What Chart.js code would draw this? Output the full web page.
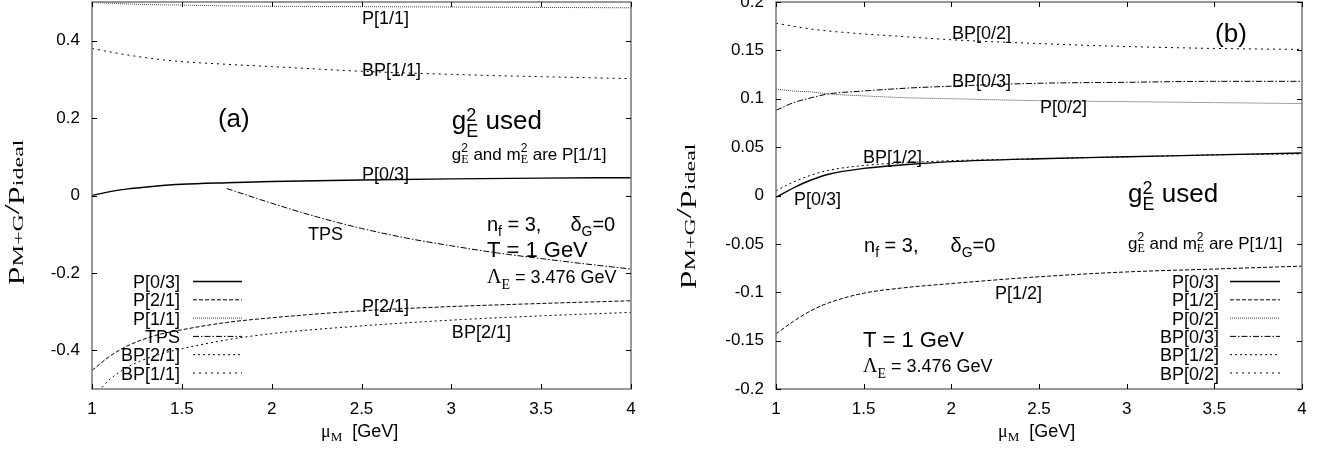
<!DOCTYPE html>
<html>
<head>
<meta charset="utf-8">
<script src="https://cdn.jsdelivr.net/npm/chart.js@4/dist/chart.umd.min.js"></script>
<style>
  body { margin: 0; background: #fff; }
  .panel { position: absolute; top: 0; width: 667px; height: 454px; }
</style>
</head>
<body>
<div class="panel" style="left:0"><canvas id="chartA" width="667" height="454"></canvas></div>
<div class="panel" style="left:667px"><canvas id="chartB" width="667" height="454"></canvas></div>
<script>
/* ── data, panel (a) ── */
const xA     = [1, 1.1, 1.2, 1.35, 1.5, 1.75, 2, 2.5, 3, 3.5, 4];
const p03A   = [0, 0.010, 0.017, 0.024, 0.029, 0.033, 0.036, 0.040, 0.043, 0.045, 0.046];
const p21A   = [-0.452, -0.415, -0.388, -0.362, -0.347, -0.328, -0.316, -0.298, -0.287, -0.279, -0.272];
const p11A   = [0.499, 0.497, 0.495, 0.493, 0.492, 0.490, 0.489, 0.488, 0.487, 0.486, 0.485];
const bp21A  = [-0.525, -0.475, -0.443, -0.414, -0.396, -0.373, -0.357, -0.337, -0.322, -0.311, -0.302];
const bp11A  = [0.380, 0.371, 0.363, 0.353, 0.346, 0.339, 0.333, 0.321, 0.313, 0.307, 0.302];
const xTps   = [1.75, 2, 2.25, 2.5, 2.75, 3, 3.25, 3.5, 3.75, 4];
const tpsA   = [0.018, -0.020, -0.055, -0.085, -0.110, -0.130, -0.148, -0.163, -0.177, -0.190];

/* ── data, panel (b) ── */
const xB     = [1, 1.1, 1.2, 1.3, 1.5, 1.75, 2, 2.5, 3, 3.5, 4];
const p03B   = [-0.002, 0.008, 0.016, 0.022, 0.028, 0.032, 0.035, 0.038, 0.040, 0.042, 0.044];
const p12B   = [-0.143, -0.130, -0.119, -0.111, -0.101, -0.095, -0.091, -0.084, -0.079, -0.076, -0.073];
const p02B   = [0.110, 0.108, 0.107, 0.105, 0.103, 0.101, 0.100, 0.098, 0.097, 0.096, 0.095];
const bp03B  = [0.088, 0.096, 0.101, 0.105, 0.108, 0.111, 0.113, 0.116, 0.117, 0.118, 0.118];
const bp12B  = [0.005, 0.014, 0.021, 0.026, 0.031, 0.034, 0.036, 0.038, 0.040, 0.042, 0.043];
const bp02B  = [0.178, 0.175, 0.172, 0.170, 0.167, 0.164, 0.161, 0.157, 0.154, 0.152, 0.151];

/* ── tick labels ── */
const xTicks  = [1, 1.5, 2, 2.5, 3, 3.5, 4];
const yTicksA = [-0.4, -0.2, 0, 0.2, 0.4];
const yTicksB = [-0.2, -0.15, -0.1, -0.05, 0, 0.05, 0.1, 0.15, 0.2];

const SANS  = '"Liberation Sans", Arial, Helvetica, sans-serif';
const SERIF = '"Liberation Serif", "Times New Roman", serif';

const SOLID = [], DASHED = [4, 2], FINE = [1, 1], DASHDOT = [6, 2, 1.5, 2], DOT = [2, 3], DOT2 = [2, 4];

function line(label, xs, ys, dash, width, color) {
  return {
    label,
    data: xs.map((x, i) => ({ x, y: ys[i] })),
    borderColor: color || '#000',
    borderWidth: width || 1,
    borderDash: dash,
    pointRadius: 0,
    cubicInterpolationMode: 'monotone',
    fill: false,
    clip: 0,
  };
}

/* text with sub/superscripts, left-aligned on a baseline */
function drawRich(ctx, x0, y0, parts, dry) {
  let cx = x0, held = 0;
  parts.forEach(p => {
    if (p.gap) { cx += p.gap; return; }
    ctx.font = (p.size || 18) + 'px ' + (p.serif ? SERIF : SANS);
    const w = ctx.measureText(p.t).width;
    if (!dry) ctx.fillText(p.t, cx, y0 + (p.dy || 0));
    if (p.hold) { held = w; return; }
    cx += Math.max(w, held); held = 0;
  });
  return cx - x0;
}

const bigG = [
  { t: 'g', size: 26 }, { t: '2', size: 18, dy: -8, hold: true }, { t: 'E', size: 18, dy: 8 },
  { t: ' used', size: 26 },
];
const smallG = [
  { t: 'g', size: 17 }, { t: '2', size: 12, dy: -8, hold: true }, { t: 'E', size: 12, serif: true, dy: 3 },
  { t: ' and m', size: 17 }, { t: '2', size: 12, dy: -8, hold: true }, { t: 'E', size: 12, serif: true, dy: 3 },
  { t: ' are P[1/1]', size: 17 },
];
const nf = gap => [
  { t: 'n', size: 20 }, { t: 'f', size: 14, dy: 5 }, { t: ' = 3,', size: 20 }, { gap },
  { t: 'δ', size: 20 }, { t: 'G', size: 14, dy: 5 }, { t: '=0', size: 20 },
];
const lambda = [
  { t: 'Λ', size: 20, serif: true }, { t: 'E', size: 14, serif: true, dy: 6 }, { t: ' = 3.476 GeV', size: 18 },
];
const yTitle = [
  { t: 'p', size: 21, serif: true }, { t: 'M+G', size: 14, serif: true, dy: 4 },
  { t: '/', size: 21, serif: true }, { t: 'p', size: 21, serif: true }, { t: 'ideal', size: 14, serif: true, dy: 4 },
];
const xTitle = [
  { t: 'μ', size: 18, serif: true }, { t: 'M', size: 13, serif: true, dy: 4 }, { gap: 10 }, { t: '[GeV]', size: 18 },
];
const T1 = [{ t: 'T = 1 GeV', size: 22 }];
const txt = (t, size) => [{ t, size: size || 18 }];

/* frame, inward ticks, labels, legend, axis titles */
function deco(cfg) {
  return {
    id: 'deco',
    afterDatasetsDraw(chart) {
      const { ctx, chartArea: a, scales: { x, y } } = chart;
      ctx.save();
      ctx.setLineDash([]);
      ctx.strokeStyle = '#777';
      ctx.lineWidth = 1.5;
      ctx.strokeRect(a.left, a.top, a.right - a.left, a.bottom - a.top);

      ctx.strokeStyle = '#000';
      ctx.lineWidth = 1;
      ctx.beginPath();
      x.ticks.forEach(t => {
        const px = Math.round(x.getPixelForValue(t.value)) + 0.5;
        ctx.moveTo(px, a.bottom); ctx.lineTo(px, a.bottom - 5);
        ctx.moveTo(px, a.top);    ctx.lineTo(px, a.top + 5);
      });
      y.ticks.forEach(t => {
        const py = Math.round(y.getPixelForValue(t.value)) + 0.5;
        ctx.moveTo(a.left, py);  ctx.lineTo(a.left + 5, py);
        ctx.moveTo(a.right, py); ctx.lineTo(a.right - 5, py);
      });
      ctx.stroke();

      ctx.fillStyle = '#000';
      ctx.textAlign = 'left';
      ctx.textBaseline = 'alphabetic';
      cfg.notes.forEach(n => drawRich(ctx, x.getPixelForValue(n.x), y.getPixelForValue(n.y), n.parts));

      /* legend from the datasets */
      const L = cfg.legend;
      chart.data.datasets.forEach((ds, i) => {
        const base = L.base + i * L.step;
        ctx.font = '18px ' + SANS;
        ctx.textAlign = 'right';
        ctx.fillText(ds.label, L.right, base);
        ctx.beginPath();
        ctx.setLineDash(ds.borderDash);
        ctx.strokeStyle = ds.borderColor;
        ctx.lineWidth = ds.borderWidth;
        ctx.moveTo(L.x0, base - 6.5);
        ctx.lineTo(L.x1, base - 6.5);
        ctx.stroke();
      });
      ctx.setLineDash([]);
      ctx.textAlign = 'left';

      /* x title */
      drawRich(ctx, cfg.xTitleLeft, 437, xTitle);

      /* y title, rotated and stretched along its length */
      const w = drawRich(ctx, 0, 0, yTitle, true);
      ctx.translate(cfg.yTitleX, cfg.yTitleY);
      ctx.rotate(-Math.PI / 2);
      ctx.scale(145 / w, 1);
      drawRich(ctx, -w / 2, 0, yTitle);
      ctx.restore();
    }
  };
}

function makeChart(id, datasets, yMin, yMax, yTicks, yAxisWidth, padRight, cfg) {
  const tickFont = { family: SANS, size: 17 };
  return new Chart(document.getElementById(id), {
    type: 'line',
    data: { datasets },
    options: {
      responsive: false,
      animation: false,
      events: [],
      layout: { padding: { top: 2, right: padRight, bottom: 0, left: 0 } },
      plugins: { legend: { display: false }, tooltip: { enabled: false } },
      scales: {
        x: {
          type: 'linear', min: 1, max: 4,
          afterBuildTicks: s => { s.ticks = xTicks.map(v => ({ value: v })); },
          afterFit: s => { s.height = 65; s.paddingLeft = 0; s.paddingRight = 0; },
          ticks: { color: '#000', font: tickFont, padding: 10, maxRotation: 0, autoSkip: false, callback: v => String(v) },
          grid: { display: false, drawTicks: false },
          border: { display: false },
        },
        y: {
          type: 'linear', min: yMin, max: yMax,
          afterBuildTicks: s => { s.ticks = yTicks.map(v => ({ value: v })); },
          afterFit: s => { s.width = yAxisWidth; s.paddingTop = 0; s.paddingBottom = 0; },
          ticks: { color: '#000', font: tickFont, padding: 12, autoSkip: false, callback: v => String(v) },
          grid: { display: false, drawTicks: false },
          border: { display: false },
        },
      },
    },
    plugins: [deco(cfg)],
  });
}

/* ── (a) ── */
makeChart('chartA', [
  line('P[0/3]',  xA,   p03A,  SOLID,   1.4),
  line('P[2/1]',  xA,   p21A,  DASHED,  1),
  line('P[1/1]',  xA,   p11A,  FINE,    1, '#444'),
  line('TPS',     xTps, tpsA,  DASHDOT, 1),
  line('BP[2/1]', xA,   bp21A, DOT,     1),
  line('BP[1/1]', xA,   bp11A, DOT2,    1),
], -0.5, 0.5, yTicksA, 92, 36, {
  notes: [
    { x: 2.503, y: 0.442,  parts: txt('P[1/1]') },
    { x: 2.503, y: 0.310,  parts: txt('BP[1/1]') },
    { x: 1.701, y: 0.176,  parts: txt('(a)', 26) },
    { x: 3.003, y: 0.173,  parts: bigG },
    { x: 3.003, y: 0.093,  parts: smallG },
    { x: 2.503, y: 0.041,  parts: txt('P[0/3]') },
    { x: 2.202, y: -0.114, parts: txt('TPS') },
    { x: 3.198, y: -0.093, parts: nf(29) },
    { x: 3.198, y: -0.158, parts: T1 },
    { x: 3.198, y: -0.225, parts: lambda },
    { x: 2.503, y: -0.300, parts: txt('P[2/1]') },
    { x: 3.003, y: -0.367, parts: txt('BP[2/1]') },
  ],
  legend: { right: 180, base: 288, step: 18.3, x0: 193, x1: 242 },
  xTitleLeft: 321,
  yTitleX: 19, yTitleY: 212,
});

/* ── (b) ── */
makeChart('chartB', [
  line('P[0/3]',  xB, p03B,  SOLID,   1.4),
  line('P[1/2]',  xB, p12B,  DASHED,  1),
  line('P[0/2]',  xB, p02B,  FINE,    1, '#444'),
  line('BP[0/3]', xB, bp03B, DASHDOT, 1),
  line('BP[1/2]', xB, bp12B, DOT,     1),
  line('BP[0/2]', xB, bp02B, DOT2,    1),
], -0.2, 0.2, yTicksB, 109, 32, {
  notes: [
    { x: 3.504, y: 0.159,   parts: txt('(b)', 26) },
    { x: 2.004, y: 0.162,   parts: txt('BP[0/2]') },
    { x: 2.004, y: 0.1126,  parts: txt('BP[0/3]') },
    { x: 2.506, y: 0.0857,  parts: txt('P[0/2]') },
    { x: 1.496, y: 0.0341,  parts: txt('BP[1/2]') },
    { x: 1.103, y: -0.0103, parts: txt('P[0/3]') },
    { x: 3.008, y: -0.0072, parts: bigG },
    { x: 3.008, y: -0.0548, parts: smallG },
    { x: 1.502, y: -0.0579, parts: nf(32) },
    { x: 2.249, y: -0.107,  parts: txt('P[1/2]') },
    { x: 1.496, y: -0.157,  parts: T1 },
    { x: 1.496, y: -0.182,  parts: lambda },
  ],
  legend: { right: 552, base: 288, step: 18.3, x0: 563, x1: 613 },
  xTitleLeft: 331,
  yTitleX: 24, yTitleY: 216,
});
</script>
</body>
</html>
